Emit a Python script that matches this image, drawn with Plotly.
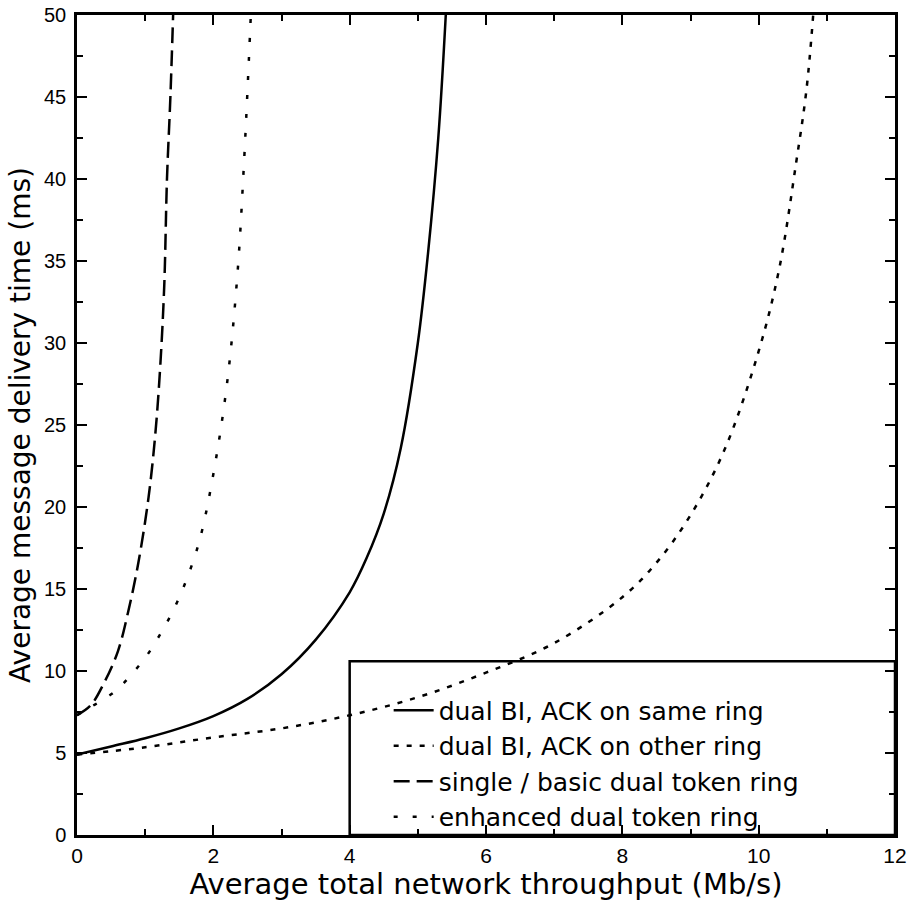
import plotly.graph_objects as go

# throughput (Mb/s) vs delivery time (ms)
same_ring_x = [0, 0.5, 1.0, 1.5, 2.0, 2.5, 3.0, 3.5, 4.0, 4.25, 4.5, 4.75, 5.0, 5.15, 5.3, 5.41]
same_ring_y = [4.9, 5.4, 5.9, 6.5, 7.25, 8.3, 9.8, 11.9, 14.8, 16.9, 19.6, 23.6, 30.0, 35.5, 42.5, 50]

other_ring_x = [0, 1, 2, 3, 4, 5, 6, 7, 8, 8.5, 9, 9.5, 10, 10.3, 10.55, 10.7, 10.8]
other_ring_y = [4.9, 5.35, 5.95, 6.5, 7.3, 8.4, 9.9, 11.7, 14.5, 16.6, 19.5, 23.5, 29.5, 34.5, 41.0, 45.4, 50]

single_x = [0, 0.2, 0.4, 0.6, 0.75, 0.9, 1.05, 1.15, 1.22, 1.28, 1.32, 1.37, 1.41]
single_y = [7.3, 7.9, 9.3, 11.2, 13.6, 16.6, 20.6, 24.5, 28.5, 33.5, 40.0, 45.0, 50]

enhanced_x = [0, 0.2, 0.4, 0.6, 0.8, 1.0, 1.2, 1.4, 1.6, 1.8, 2.0, 2.2, 2.35, 2.45, 2.55]
enhanced_y = [7.3, 7.8, 8.3, 8.9, 9.8, 10.8, 12.1, 13.6, 15.5, 18.0, 22.0, 27.5, 34.0, 41.0, 50]

series = [
    ('dual BI, ACK on same ring', same_ring_x, same_ring_y, 'solid'),
    ('dual BI, ACK on other ring', other_ring_x, other_ring_y, '5px,8px'),
    ('single / basic dual token ring', single_x, single_y, '16px,7px'),
    ('enhanced dual token ring', enhanced_x, enhanced_y, '4px,15px'),
]

# legend frame (data units)
box_x0, box_x1, box_y0, box_y1 = 4, 12, 0, 10.6

fig = go.Figure()
for name, xs, ys, dash in series:
    fig.add_trace(go.Scatter(x=xs, y=ys, name=name, mode='lines',
                             line=dict(color='black', width=2.5, dash=dash, shape='spline')))

fig.add_shape(type='rect', xref='x', yref='y', x0=box_x0, x1=box_x1, y0=box_y0, y1=box_y1,
              line=dict(color='black', width=2.5))

axis_style = dict(showline=True, linecolor='black', linewidth=2.5, mirror='ticks',
                  ticks='inside', tickcolor='black', tickwidth=2, ticklen=10,
                  showgrid=False, zeroline=False, fixedrange=True, automargin=False)

fig.update_xaxes(range=[0, 12], dtick=2, tick0=0,
                 minor=dict(dtick=1, ticks='inside', ticklen=6, tickcolor='black', tickwidth=2),
                 tickfont=dict(family='Liberation Sans Narrow, Liberation Sans', size=21, color='black'),
                 title=dict(text='Average total network throughput (Mb/s)', standoff=2,
                            font=dict(family='DejaVu Sans', size=29, color='black')),
                 **axis_style)
fig.update_yaxes(range=[0, 50], dtick=5, tick0=0,
                 minor=dict(dtick=2.5, ticks='inside', ticklen=6, tickcolor='black', tickwidth=2),
                 tickfont=dict(family='Liberation Sans', size=20, color='black'),
                 ticklabelstandoff=4,
                 title=dict(text='Average message delivery time (ms)', standoff=6,
                            font=dict(family='DejaVu Sans', size=28, color='black')),
                 **axis_style)

fig.update_layout(
    width=915, height=903,
    margin=dict(l=77, r=20, t=15, b=68),
    paper_bgcolor='white', plot_bgcolor='white',
    legend=dict(x=0.381, y=0.18, xanchor='left', yanchor='top',
                bgcolor='rgba(0,0,0,0)', borderwidth=0,
                font=dict(family='DejaVu Sans', size=25, color='black'),
                tracegroupgap=0, itemwidth=40),
    showlegend=True,
)

fig.write_html('out.html', config={'displayModeBar': False},
               post_script="document.body.style.margin='0';")
